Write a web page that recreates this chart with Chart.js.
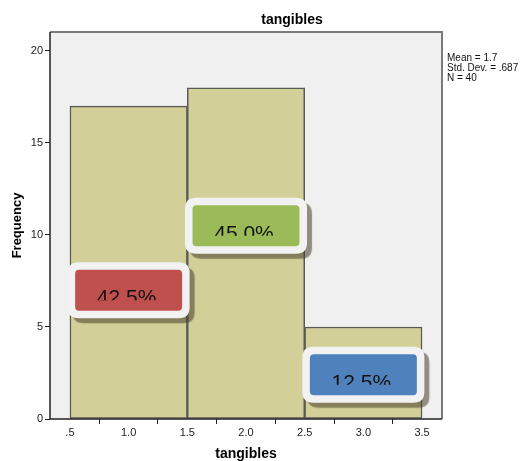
<!DOCTYPE html>
<html>
<head>
<meta charset="utf-8">
<script src="https://cdn.jsdelivr.net/npm/chart.js@4.4.1/dist/chart.umd.min.js"></script>
<style>
html,body{margin:0;padding:0;background:#ffffff;}
#wrap{width:521px;height:461px;position:relative;}
</style>
</head>
<body>
<div id="wrap"><canvas id="c" width="521" height="461"></canvas></div>
<script>
// ---- data ----
const binCenters = [1.0, 2.0, 3.0];
const frequencies = [17, 18, 5];
const percentLabels = ['42.5%', '45.0%', '12.5%'];
const labelColors = ['#C0504D', '#9BBB59', '#4F81BD'];
const labelYValues = [7.0, 10.5, 2.4];
const xTickValues = [0.5, 1.0, 1.5, 2.0, 2.5, 3.0, 3.5];
const xTickLabels = ['.5', '1.0', '1.5', '2.0', '2.5', '3.0', '3.5'];
const yTickValues = [0, 5, 10, 15, 20];
const statsLines = ['Mean = 1.7', 'Std. Dev. = .687', 'N = 40'];
const chartTitle = 'tangibles';
const xTitle = 'tangibles';
const yTitle = 'Frequency';

const X_MIN = 0.33, X_MAX = 3.67, Y_MAX = 21.03;

function roundRect(ctx, x, y, w, h, r) {
  ctx.beginPath();
  ctx.moveTo(x + r, y);
  ctx.lineTo(x + w - r, y);
  ctx.quadraticCurveTo(x + w, y, x + w, y + r);
  ctx.lineTo(x + w, y + h - r);
  ctx.quadraticCurveTo(x + w, y + h, x + w - r, y + h);
  ctx.lineTo(x + r, y + h);
  ctx.quadraticCurveTo(x, y + h, x, y + h - r);
  ctx.lineTo(x, y + r);
  ctx.quadraticCurveTo(x, y, x + r, y);
  ctx.closePath();
}

const decorPlugin = {
  id: 'decor',
  beforeDatasetsDraw(chart) {
    const {ctx, chartArea: a} = chart;
    ctx.save();
    ctx.fillStyle = '#F0F0F0';
    ctx.fillRect(a.left, a.top, a.right - a.left, a.bottom - a.top);
    ctx.restore();
  },
  afterDatasetsDraw(chart) {
    const {ctx, chartArea: a, scales} = chart;
    ctx.save();
    ctx.strokeStyle = '#7a7a7a';
    ctx.lineWidth = 2;
    ctx.beginPath();
    ctx.moveTo(a.left, a.top);
    ctx.lineTo(a.right, a.top);
    ctx.lineTo(a.right, a.bottom);
    ctx.stroke();
    ctx.strokeStyle = '#222';
    ctx.lineWidth = 1.5;
    ctx.beginPath();
    ctx.moveTo(a.left, a.top);
    ctx.lineTo(a.left, a.bottom);
    ctx.lineTo(a.right, a.bottom);
    ctx.stroke();
    binCenters.forEach((xv, i) => {
      const cx = scales.x.getPixelForValue(xv);
      const cy = scales.y.getPixelForValue(labelYValues[i]);
      const ow = 122, oh = 56, iw = 107, ih = 41;
      ctx.save();
      ctx.shadowColor = 'rgba(70,60,40,0.55)';
      ctx.shadowOffsetX = 5;
      ctx.shadowOffsetY = 5;
      ctx.shadowBlur = 1;
      roundRect(ctx, cx - ow / 2, cy - oh / 2, ow, oh, 11);
      ctx.fillStyle = '#F2F2F2';
      ctx.fill();
      ctx.restore();
      roundRect(ctx, cx - iw / 2, cy - ih / 2, iw, ih, 4);
      ctx.fillStyle = labelColors[i];
      ctx.fill();
      ctx.save();
      ctx.beginPath();
      ctx.rect(cx - iw / 2, cy - ih / 2, iw, ih / 2 + 10);
      ctx.clip();
      ctx.fillStyle = '#111';
      ctx.font = '21px Arial, "Liberation Sans", sans-serif';
      ctx.textAlign = 'center';
      ctx.textBaseline = 'alphabetic';
      ctx.fillText(percentLabels[i], cx - 2, cy + 14);
      ctx.restore();
    });
    ctx.restore();
  },
  afterDraw(chart) {
    const {ctx, chartArea: a} = chart;
    ctx.save();
    ctx.fillStyle = '#000';
    ctx.font = 'bold 14px Arial, "Liberation Sans", sans-serif';
    ctx.textAlign = 'center';
    ctx.textBaseline = 'middle';
    ctx.fillText(chartTitle, 292, 20);
    ctx.fillText(xTitle, (a.left + a.right) / 2, 454);
    ctx.save();
    ctx.translate(17, (a.top + a.bottom) / 2);
    ctx.rotate(-Math.PI / 2);
    ctx.font = 'bold 13px Arial, "Liberation Sans", sans-serif';
    ctx.fillText(yTitle, 0, 0);
    ctx.restore();
    ctx.font = '10px Arial, "Liberation Sans", sans-serif';
    ctx.textAlign = 'left';
    ctx.fillStyle = '#111';
    statsLines.forEach((s, i) => ctx.fillText(s, a.right + 5, 58 + i * 10));
    ctx.restore();
  }
};

new Chart(document.getElementById('c'), {
  type: 'bar',
  data: {
    datasets: [{
      xAxisID: 'xb',
      data: binCenters.map((x, i) => ({x: x, y: frequencies[i]})),
      backgroundColor: '#D3CF98',
      borderColor: '#5a5a55',
      borderWidth: 1.5,
      borderSkipped: false,
      barPercentage: 1.0,
      categoryPercentage: 1.0
    }]
  },
  options: {
    responsive: false,
    animation: false,
    devicePixelRatio: 1,
    layout: {padding: {left: 0, right: 79, top: 32, bottom: 0}},
    plugins: {legend: {display: false}, tooltip: {enabled: false}, title: {display: false}},
    scales: {
      xb: {
        type: 'linear', position: 'bottom', display: false,
        min: X_MIN, max: X_MAX, offset: false,
        afterBuildTicks(scale) { scale.ticks = binCenters.map(v => ({value: v})); }
      },
      x: {
        type: 'linear', position: 'bottom',
        min: X_MIN, max: X_MAX,
        offset: false,
        grid: {display: true, drawOnChartArea: false, drawTicks: true, tickLength: 5, color: '#222', lineWidth: 1},
        border: {display: false},
        afterBuildTicks(scale) { scale.ticks = xTickValues.map(v => ({value: v})); },
        ticks: {
          autoSkip: false, maxRotation: 0, padding: 2,
          color: '#222',
          font: {family: 'Arial, "Liberation Sans", sans-serif', size: 11},
          callback: (v) => { const i = xTickValues.indexOf(v); return i >= 0 ? xTickLabels[i] : ''; }
        },
        afterFit(scale) { scale.height = 42; }
      },
      y: {
        min: 0, max: Y_MAX,
        grid: {display: true, drawOnChartArea: false, drawTicks: true, tickLength: 5, color: '#222', lineWidth: 1},
        border: {display: false},
        afterBuildTicks(scale) { scale.ticks = yTickValues.map(v => ({value: v})); },
        ticks: {
          color: '#222', padding: 2,
          font: {family: 'Arial, "Liberation Sans", sans-serif', size: 11}
        },
        afterFit(scale) { scale.width = 50; }
      }
    }
  },
  plugins: [decorPlugin]
});
</script>
</body>
</html>
